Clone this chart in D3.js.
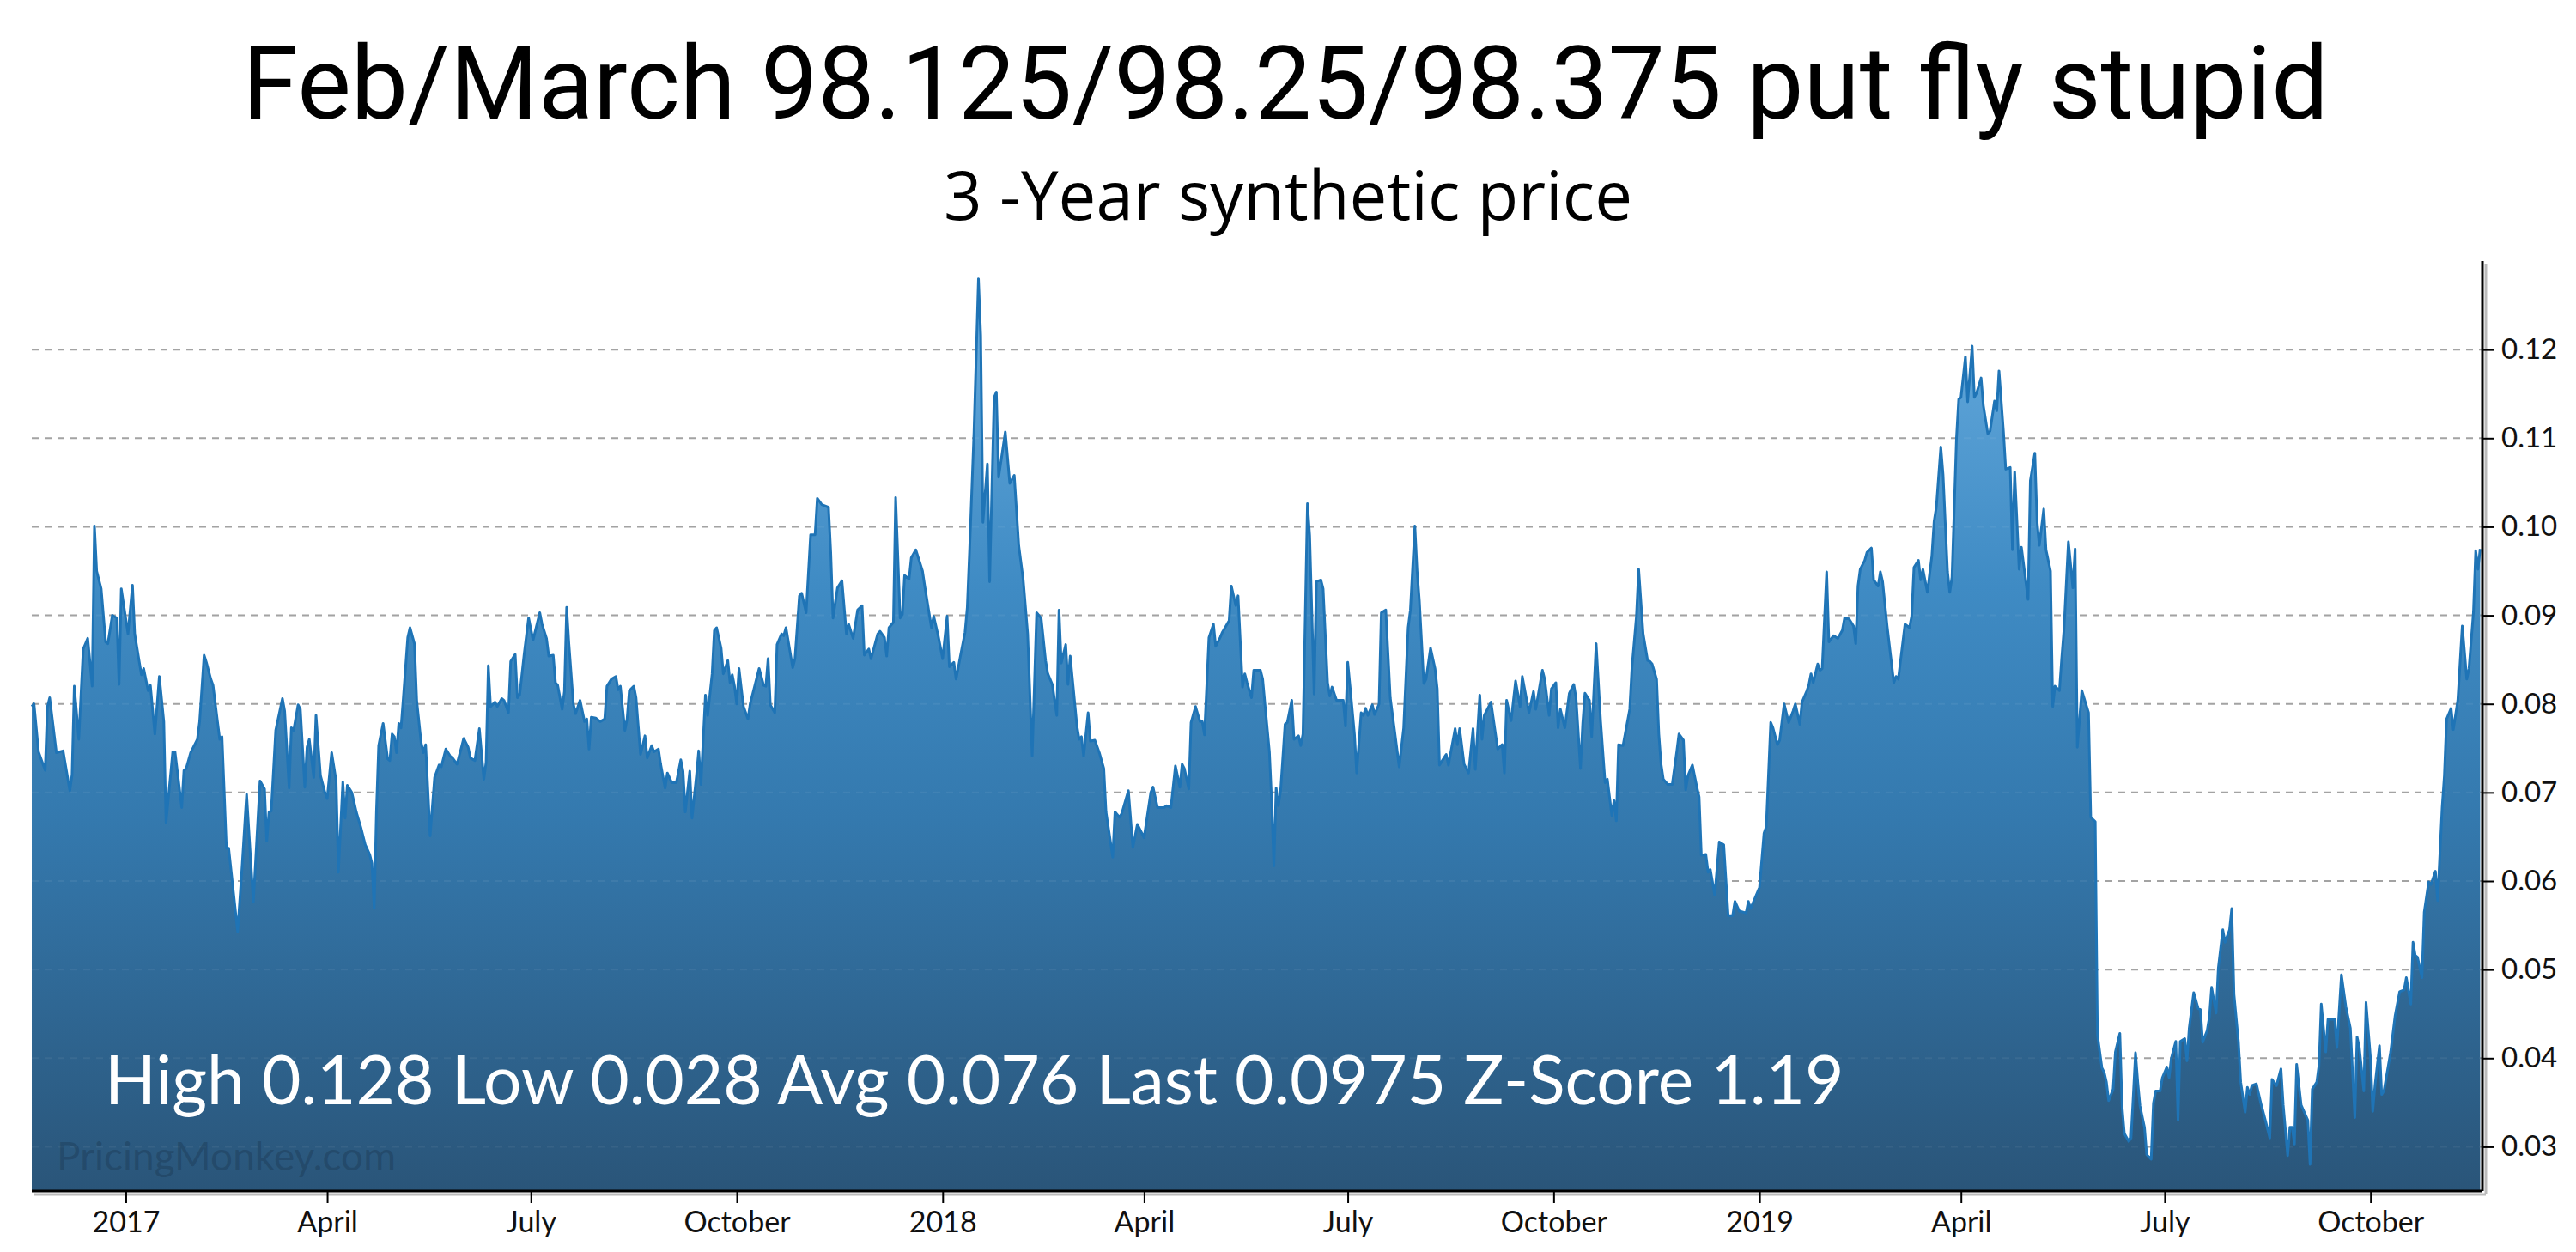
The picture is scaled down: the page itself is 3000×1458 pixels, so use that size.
<!DOCTYPE html>
<html><head><meta charset="utf-8">
<script src="https://cdn.jsdelivr.net/npm/d3@7"></script>
<style>html,body{margin:0;padding:0;background:#fff}svg{display:block}</style>
</head><body>
<svg id="chart" width="3000" height="1458"></svg>
<script>
const titleText = "Feb/March 98.125/98.25/98.375 put fly stupid";
const subtitleText = "3 -Year synthetic price";
const statsText = "High 0.128 Low 0.028 Avg 0.076 Last 0.0975 Z-Score 1.19";
const watermarkText = "PricingMonkey.com";
const startDate = "2016-11-20";
const endDate = "2019-11-20";
const yDomain = [0.025, 0.13];
const yTicks = [0.03, 0.04, 0.05, 0.06, 0.07, 0.08, 0.09, 0.10, 0.11, 0.12];
const xTickDates = ["2017-01-01","2017-04-01","2017-07-01","2017-10-01","2018-01-01","2018-04-01","2018-07-01","2018-10-01","2019-01-01","2019-04-01","2019-07-01","2019-10-01"];
const xTickLabels = ["2017","April","July","October","2018","April","July","October","2019","April","July","October"];

// days after startDate
const dayOffsets = [
0,1,3,6,7,8,11,14,17,18,19,21,23,25,27,28,29,31,33,34,36,38,39,40,43,45,46,48,49,50,52,53,55,57,59,60,63,64,67,68,69,71,74,75,77,78,80,81,83,84,85,87,88,92,94,96,99,102,104,105,106,107,109,112,113,115,116,117,119,120,122,123,124,126,127,129,131,132,134,136,137,139,140,141,143,145,147,149,151,152,153,154,155,157,159,160,161,162,163,164,165,166,168,169,171,172,174,175,176,178,
180,182,183,185,187,188,190,192,193,195,196,198,200,202,203,204,205,207,208,210,211,213,214,216,217,218,220,222,224,227,228,230,231,233,234,235,237,238,239,240,242,243,245,247,248,249,250,252,254,256,257,259,261,262,263,265,266,267,269,270,272,273,274,275,277,278,280,281,283,284,286,288,290,291,292,294,295,297,298,299,301,302,304,305,306,308,309,311,312,313,314,315,316,318,320,321,325,327,328,329,330,332,333,335,336,337,340,341,343,344,346,348,350,351,353,356,357,358,360,
362,364,365,367,369,371,372,374,375,378,379,381,382,383,385,386,388,389,390,392,393,395,398,399,402,403,405,407,409,410,412,413,415,417,418,419,421,423,424,425,427,428,430,431,432,435,437,439,441,443,445,447,448,449,451,453,454,456,458,459,460,462,463,464,467,468,469,470,472,473,475,477,479,480,483,484,486,487,490,492,494,497,500,501,503,506,507,509,511,513,514,515,517,518,520,522,523,524,526,528,529,531,532,535,536,538,539,541,542,
543,545,546,549,550,551,553,554,555,556,557,558,560,561,563,564,566,567,568,570,571,573,574,576,577,579,580,581,583,586,587,588,589,591,592,594,595,596,597,599,600,602,603,605,607,611,613,615,616,618,619,620,622,623,625,627,628,629,631,632,633,636,637,638,640,642,644,645,647,648,649,652,655,657,658,659,661,663,665,666,669,671,672,675,676,678,679,681,682,683,685,687,689,690,692,693,694,696,697,699,701,703,704,706,707,708,709,711,714,715,717,718,720,722,
723,724,726,727,728,729,731,733,735,736,738,739,740,742,744,745,746,748,749,750,752,754,756,758,760,761,763,766,767,768,772,774,775,777,778,780,781,783,785,787,788,790,791,793,794,795,796,798,799,800,802,803,805,807,809,810,812,814,815,816,817,819,820,822,823,825,826,827,829,832,833,834,837,839,840,841,843,844,845,847,849,850,851,853,854,856,857,858,860,861,862,864,865,867,868,869,871,872,874,875,877,878,879,881,882,884,885,886,888,889,892,893,895,896,897,899,900,902,
903,904,906,907,908,910,912,913,914,916,919,920,922,923,925,926,927,928,930,931,933,934,935,937,938,940,941,942,944,945,947,948,949,951,952,954,955,956,958,959,960,962,963,964,966,968,969,970,972,973,974,976,977,979,980,982,983,984,986,987,989,990,991,992,994,996,998,1000,1001,1003,1005,1006,1008,1009,1010,1011,1012,1014,1017,1018,1019,1021,1022,1023,1025,1026,1029,1030,1032,1034,1036,1038,1039,1040,1042,1043,1045,1046,1047,1049,1050,1051,1054,1056,1058,1060,1061,1063,1064,1065,1066,1068,1069,1071,1072,1074,1075,1077,1078,1079,1081,1082,1084,1086,1088,1089,1091,1092,1093,1094
];

const values = [
0.0797,0.0800,0.0746,0.0725,0.0797,0.0807,0.0745,0.0747,0.0702,0.0720,0.0820,0.0760,0.0862,0.0874,0.0820,0.1001,0.0950,0.0930,0.0870,0.0868,0.0900,0.0897,0.0822,0.0930,0.0879,0.0934,0.0879,0.0848,0.0833,0.0840,0.0815,0.0821,0.0766,0.0831,0.0780,0.0666,0.0746,0.0746,0.0683,0.0725,0.0727,0.0745,0.0760,0.0780,0.0855,0.0847,0.0828,0.0821,0.0780,0.0760,0.0763,0.0637,0.0637,0.0543,0.0617,0.0698,0.0576,0.0713,0.0704,0.0645,0.0678,0.0679,0.0770,0.0806,0.0792,0.0705,0.0773,0.0770,0.0799,0.0794,0.0706,0.0751,0.0760,0.0717,0.0787,0.0719,0.0700,0.0693,0.0745,0.0713,0.0610,0.0712,0.0671,0.0708,0.0700,0.0678,0.0661,0.0641,0.0630,0.0620,0.0569,0.0678,0.0753,0.0778,0.0738,0.0736,0.0766,0.0763,0.0745,0.0778,0.0773,0.0806,0.0875,0.0886,0.0868,0.0804,0.0756,0.0745,0.0754,0.0651,
0.0717,0.0731,0.0729,0.0749,0.0741,0.0739,0.0732,0.0751,0.0761,0.0751,0.0739,0.0736,0.0772,0.0715,0.0734,0.0843,0.0797,0.0802,0.0797,0.0806,0.0804,0.0790,0.0848,0.0856,0.0807,0.0810,0.0856,0.0897,0.0872,0.0903,0.0890,0.0874,0.0854,0.0855,0.0824,0.0821,0.0794,0.0814,0.0909,0.0868,0.0800,0.0789,0.0804,0.0780,0.0783,0.0749,0.0785,0.0784,0.0780,0.0783,0.0820,0.0828,0.0831,0.0816,0.0820,0.0770,0.0783,0.0815,0.0820,0.0807,0.0743,0.0753,0.0764,0.0739,0.0753,0.0746,0.0749,0.0732,0.0705,0.0722,0.0711,0.0711,0.0737,0.0724,0.0678,0.0724,0.0671,0.0719,0.0747,0.0709,0.0810,0.0787,0.0834,0.0883,0.0886,0.0863,0.0834,0.0849,0.0824,0.0833,0.0820,0.0800,0.0840,0.0797,0.0783,0.0800,0.0840,0.0821,0.0820,0.0851,0.0799,0.0790,0.0867,0.0879,0.0877,0.0886,0.0841,0.0851,0.0922,0.0925,0.0903,0.0991,0.0991,0.1032,0.1025,0.1022,0.0971,0.0897,0.0931,
0.0939,0.0879,0.0890,0.0874,0.0906,0.0911,0.0855,0.0862,0.0851,0.0879,0.0882,0.0875,0.0854,0.0886,0.0892,0.1033,0.0897,0.0901,0.0945,0.0941,0.0965,0.0974,0.0950,0.0933,0.0886,0.0899,0.0877,0.0851,0.0899,0.0842,0.0847,0.0828,0.0855,0.0881,0.0909,0.0971,0.1107,0.1280,0.1216,0.1005,0.1071,0.0938,0.1146,0.1152,0.1056,0.1107,0.1049,0.1058,0.0979,0.0940,0.0879,0.0741,0.0821,0.0903,0.0897,0.0849,0.0834,0.0822,0.0787,0.0906,0.0846,0.0867,0.0822,0.0854,0.0775,0.0760,0.0763,0.0741,0.0790,0.0758,0.0759,0.0745,0.0727,0.0678,0.0627,0.0678,0.0672,0.0676,0.0702,0.0638,0.0664,0.0649,0.0700,0.0706,0.0683,0.0683,0.0685,0.0683,0.0730,0.0706,0.0732,0.0727,0.0704,0.0779,0.0797,0.0780,0.0780,0.0765,0.0875,0.0890,0.0865,0.0875,0.0881,0.0894,0.0933,0.0911,0.0922,0.0819,0.0834,
0.0824,0.0807,0.0838,0.0838,0.0828,0.0800,0.0746,0.0691,0.0617,0.0705,0.0685,0.0702,0.0777,0.0779,0.0804,0.0760,0.0764,0.0753,0.0766,0.1026,0.0990,0.0811,0.0938,0.0940,0.0930,0.0824,0.0809,0.0819,0.0804,0.0804,0.0775,0.0847,0.0821,0.0766,0.0722,0.0790,0.0787,0.0795,0.0787,0.0799,0.0788,0.0800,0.0903,0.0906,0.0807,0.0729,0.0773,0.0886,0.0906,0.1001,0.0950,0.0917,0.0823,0.0828,0.0863,0.0840,0.0817,0.0731,0.0739,0.0743,0.0731,0.0772,0.0754,0.0772,0.0732,0.0722,0.0772,0.0726,0.0810,0.0760,0.0787,0.0802,0.0749,0.0754,0.0722,0.0804,0.0781,0.0826,0.0797,0.0831,0.0790,0.0814,0.0794,0.0838,0.0828,0.0787,0.0817,0.0824,0.0773,0.0794,0.0773,0.0812,0.0822,0.0807,0.0727,0.0778,0.0812,0.0804,0.0763,0.0868,0.0780,0.0711,0.0715,0.0674,0.0691,0.0668,0.0754,0.0753,0.0794,0.0841,0.0899,0.0952,0.0879,0.0849,
0.0848,0.0845,0.0828,0.0766,0.0732,0.0715,0.0709,0.0709,0.0746,0.0766,0.0759,0.0703,0.0719,0.0731,0.0706,0.0695,0.0629,0.0630,0.0610,0.0613,0.0584,0.0644,0.0641,0.0561,0.0561,0.0577,0.0566,0.0564,0.0577,0.0569,0.0593,0.0654,0.0661,0.0779,0.0773,0.0754,0.0759,0.0800,0.0779,0.0792,0.0800,0.0777,0.0802,0.0814,0.0821,0.0834,0.0824,0.0845,0.0838,0.0840,0.0949,0.0870,0.0877,0.0874,0.0883,0.0897,0.0896,0.0888,0.0868,0.0933,0.0952,0.0962,0.0971,0.0976,0.0940,0.0933,0.0949,0.0938,0.0888,0.0824,0.0831,0.0828,0.0890,0.0886,0.0899,0.0954,0.0962,0.0940,0.0952,0.0926,0.0967,0.1006,0.1022,0.1090,0.1059,0.0949,0.0926,0.0943,0.1100,0.1144,0.1146,0.1192,0.1141,0.1204,0.1146,0.1151,0.1168,0.1137,0.1105,0.1108,0.1142,0.1131,0.1176,0.1107,0.1065,0.1067,0.0974,0.1062,0.0952,0.0977,0.0918,0.1052,0.1083,0.1006,0.0979,0.1020,0.0974,0.0950,
0.0797,0.0820,0.0815,0.0851,0.0883,0.0983,0.0931,0.0975,0.0751,0.0815,0.0790,0.0672,0.0667,0.0426,0.0389,0.0384,0.0373,0.0352,0.0365,0.0407,0.0428,0.0345,0.0315,0.0306,0.0310,0.0406,0.0373,0.0346,0.0322,0.0291,0.0286,0.0349,0.0363,0.0363,0.0378,0.0390,0.0378,0.0400,0.0419,0.0330,0.0419,0.0422,0.0397,0.0434,0.0474,0.0456,0.0455,0.0418,0.0431,0.0446,0.0480,0.0451,0.0502,0.0545,0.0531,0.0545,0.0569,0.0472,0.0418,0.0373,0.0339,0.0367,0.0359,0.0369,0.0371,0.0349,0.0330,0.0310,0.0376,0.0369,0.0388,0.0347,0.0290,0.0322,0.0322,0.0303,0.0393,0.0347,0.0330,0.0280,0.0365,0.0373,0.0392,0.0461,0.0407,0.0444,0.0444,0.0412,0.0494,0.0458,0.0434,0.0333,0.0424,0.0412,0.0363,0.0463,0.0400,0.0340,0.0369,0.0414,0.0359,0.0363,0.0407,0.0448,0.0475,0.0477,0.0491,0.0461,0.0531,0.0516,0.0514,0.0491,0.0565,0.0599,0.0596,0.0611,0.0578,0.0683,0.0719,0.0783,0.0795,0.0771,0.0804,0.0888,0.0828,0.0840,0.0904,0.0973,0.0952,0.0975
];

const W = 3000, H = 1458;
const plot = {left: 37, right: 2891, top: 304, bottom: 1387};
const parse = d3.utcParse("%Y-%m-%d");
const t0 = parse(startDate);
const data = dayOffsets.map((d, i) => ({date: d3.utcDay.offset(t0, d), value: values[i]}));

const x = d3.scaleUtc().domain([t0, parse(endDate)]).range([plot.left, plot.right]);
const y = d3.scaleLinear().domain(yDomain).range([plot.bottom, plot.top]);

const svg = d3.select("#chart");
const defs = svg.append("defs");
const grad = defs.append("linearGradient").attr("id", "areaGrad")
  .attr("gradientUnits", "userSpaceOnUse")
  .attr("x1", 0).attr("x2", 0).attr("y1", plot.top).attr("y2", plot.bottom);
[[0, "#6aaee0"], [0.35, "#3f8bc4"], [0.6, "#3479ae"], [1, "#2a5579"]].forEach(([o, c]) =>
  grad.append("stop").attr("offset", o).attr("stop-color", c));

// gridlines
svg.append("g").selectAll("line").data(yTicks).join("line")
  .attr("x1", plot.left).attr("x2", plot.right)
  .attr("y1", d => y(d)).attr("y2", d => y(d))
  .attr("stroke", "#9e9e9e").attr("stroke-width", 2).attr("stroke-dasharray", "8,7");

// area
const area = d3.area().x(d => x(d.date)).y0(plot.bottom).y1(d => y(d.value));
svg.append("path").datum(data).attr("d", area).attr("fill", "url(#areaGrad)");

// gridlines over area (faint)
svg.append("g").selectAll("line").data(yTicks).join("line")
  .attr("x1", plot.left).attr("x2", plot.right)
  .attr("y1", d => y(d)).attr("y2", d => y(d))
  .attr("stroke", "#ffffff").attr("stroke-opacity", 0.06).attr("stroke-width", 2).attr("stroke-dasharray", "8,7");

const line = d3.line().x(d => x(d.date)).y(d => y(d.value));
svg.append("path").datum(data).attr("d", line)
  .attr("fill", "none").attr("stroke", "#1f74b6").attr("stroke-width", 3).attr("stroke-linejoin", "round");

// watermark
svg.append("text").attr("x", 66).attr("y", 1363).text(watermarkText)
  .attr("font-family", "Lato").attr("font-size", 46).attr("fill", "#1b3a55").attr("fill-opacity", 0.45);

// stats
svg.append("text").attr("x", 122).attr("y", 1286).text(statsText)
  .attr("font-family", "Lato").attr("font-size", 78.5).attr("fill", "#ffffff");

// axes
const yAxis = d3.axisRight(y).tickValues(yTicks).tickFormat(d3.format(".2f")).tickSize(14).tickPadding(8);
const xAxis = d3.axisBottom(x).tickValues(xTickDates.map(parse)).tickFormat((d, i) => xTickLabels[i]).tickSize(14).tickPadding(10);

// axis shadows
svg.append("line").attr("x1", plot.right + 4).attr("x2", plot.right + 4).attr("y1", plot.top + 3).attr("y2", plot.bottom + 4)
  .attr("stroke", "#bbbbbb").attr("stroke-width", 3);
svg.append("line").attr("x1", plot.left + 3).attr("x2", plot.right + 4).attr("y1", plot.bottom + 4).attr("y2", plot.bottom + 4)
  .attr("stroke", "#bbbbbb").attr("stroke-width", 3);

const gy = svg.append("g").attr("transform", `translate(${plot.right},0)`).call(yAxis);
gy.select(".domain").attr("d", `M0,${plot.top}V${plot.bottom}`).attr("stroke", "#000").attr("stroke-width", 3);
gy.selectAll(".tick line").attr("stroke", "#000").attr("stroke-width", 2);
gy.selectAll(".tick text").attr("font-family", "Lato").attr("font-size", 33).attr("fill", "#111");

const gx = svg.append("g").attr("transform", `translate(0,${plot.bottom})`).call(xAxis);
gx.select(".domain").attr("d", `M${plot.left},0H${plot.right}`).attr("stroke", "#000").attr("stroke-width", 3);
gx.selectAll(".tick line").attr("stroke", "#000").attr("stroke-width", 2);
gx.selectAll(".tick text").attr("font-family", "Lato").attr("font-size", 34).attr("fill", "#111");

// titles
svg.append("text").attr("x", 1497).attr("y", 138).attr("text-anchor", "middle").text(titleText)
  .attr("font-family", "Roboto").attr("font-size", 118).attr("fill", "#000");
svg.append("text").attr("x", 1500).attr("y", 256).attr("text-anchor", "middle").text(subtitleText)
  .attr("font-family", "Open Sans").attr("font-size", 78).attr("fill", "#000");
</script>
</body></html>
